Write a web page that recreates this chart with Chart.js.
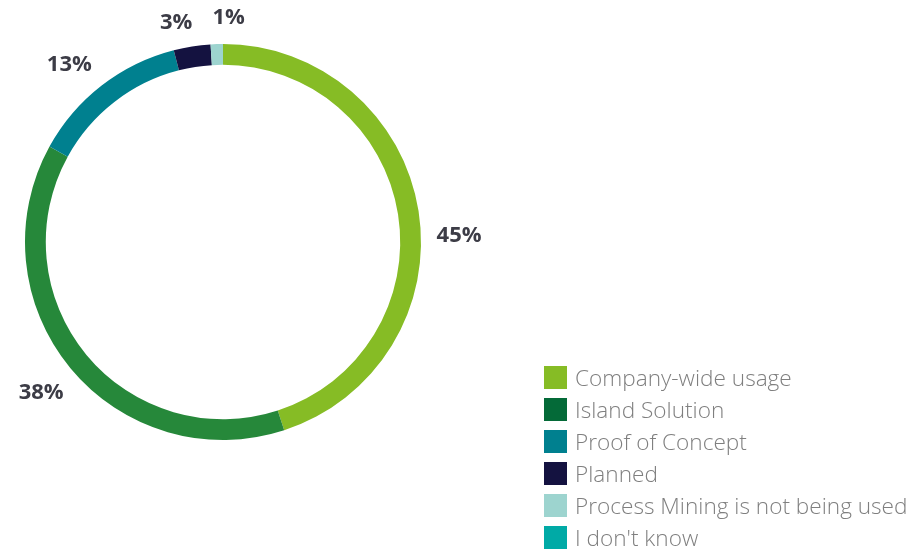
<!DOCTYPE html>
<html>
<head>
<meta charset="utf-8">
<script src="https://cdn.jsdelivr.net/npm/chart.js@4/dist/chart.umd.min.js"></script>
<style>
  html, body { margin: 0; padding: 0; background: #ffffff; }
  #wrap { position: relative; width: 922px; height: 551px; }
  #legend { position: absolute; left: 544px; top: 361px; font-family: "Open Sans", sans-serif; font-weight: 300; font-size: 22.6px; color: #7f7f7f; }
  #legend div { height: 32px; display: flex; align-items: center; white-space: nowrap; }
  #legend span.box { display: inline-block; width: 23px; height: 23px; margin-right: 8px; }
</style>
</head>
<body>
<div id="wrap">
  <canvas id="chart" width="922" height="551"></canvas>
  <div id="legend"></div>
</div>
<script>
const labels = ['Company-wide usage', 'Island Solution', 'Proof of Concept', 'Planned', 'Process Mining is not being used', "I don't know"];
const values = [45, 38, 13, 3, 1, 0];
const ringColors = ['#86bc25', '#26883a', '#00808f', '#141240', '#9dd4cf', '#00aaa6'];
const legendColors = ['#86bc25', '#046a38', '#00808f', '#141240', '#9dd4cf', '#00aaa6'];
// small nudges so the percent labels sit where the original put them
const labelNudge = [[3, 31], [0, 0], [-9, 9], [-10, 14], [13, 12], [0, 0]];

const percentLabels = {
    id: 'percentLabels',
    afterDatasetsDraw(chart) {
        const ctx = chart.ctx;
        const meta = chart.getDatasetMeta(0);
        ctx.save();
        ctx.font = 'bold 22px "Open Sans", sans-serif';
        ctx.fillStyle = '#3c3c46';
        ctx.textAlign = 'center';
        ctx.textBaseline = 'middle';
        meta.data.forEach((arc, i) => {
            if (!values[i]) return;
            const mid = (arc.startAngle + arc.endAngle) / 2;
            const r = arc.outerRadius + 38;
            const x = arc.x + Math.cos(mid) * r + labelNudge[i][0];
            const y = arc.y + Math.sin(mid) * r + labelNudge[i][1];
            ctx.fillText(values[i] + '%', x, y);
        });
        ctx.restore();
    }
};

new Chart(document.getElementById('chart').getContext('2d'), {
    type: 'doughnut',
    data: {
        labels: labels,
        datasets: [{
            data: values,
            backgroundColor: ringColors,
            borderWidth: 0
        }]
    },
    options: {
        responsive: false,
        animation: false,
        cutout: '89.5%',
        layout: { padding: { left: 25, top: 44, right: 501, bottom: 111 } },
        plugins: {
            legend: { display: false },
            tooltip: { enabled: false }
        }
    },
    plugins: [percentLabels]
});

const legend = document.getElementById('legend');
labels.forEach((name, i) => {
    const row = document.createElement('div');
    row.innerHTML = '<span class="box" style="background:' + legendColors[i] + '"></span>' + name;
    legend.appendChild(row);
});
</script>
</body>
</html>
